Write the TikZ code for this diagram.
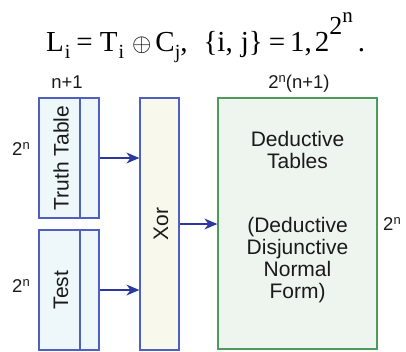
\documentclass[tikz,border=0pt]{standalone}
\usepackage{fontspec}
\setmainfont{Liberation Sans}
\newfontfamily\serifm{Liberation Serif}
\usetikzlibrary{arrows.meta}
\definecolor{boxblue}{HTML}{5060C0}
\definecolor{arrowblue}{HTML}{2C38A0}
\definecolor{cyanfill}{HTML}{EEF7FA}
\definecolor{beigefill}{HTML}{F8F8EC}
\definecolor{greenline}{HTML}{4E9A5C}
\definecolor{greenfill}{HTML}{EEF5EE}
\definecolor{txt}{HTML}{1A1A1A}
\tikzset{
  inbox/.style={draw=boxblue, fill=cyanfill, line width=1.3pt, inner sep=0pt},
  xorbox/.style={draw=boxblue, fill=beigefill, line width=1.3pt, inner sep=0pt},
  dedbox/.style={draw=greenline, fill=greenfill, line width=1.3pt, inner sep=0pt},
  conn/.style={draw=arrowblue, line width=1.2pt, -{Stealth[length=13pt,width=11pt]}},
  biglbl/.style={font=\fontsize{21}{22}\selectfont, text=txt},
  smalllbl/.style={font=\fontsize{18.5}{20}\selectfont, text=txt, inner sep=0pt},
}
\newcommand{\subx}[1]{\raisebox{-7pt}{\fontsize{20}{20}\selectfont #1}}
\begin{document}
\begin{tikzpicture}[x=1pt,y=-1pt]
\useasboundingbox (0,0) rectangle (406,351);
% formula
\node[anchor=base west, inner sep=0pt, font=\serifm\fontsize{29}{30}\selectfont, text=black] (formula) at (46,51)
 {L\hspace{1pt}\subx{i}\hspace{6pt}=\hspace{7pt}T\hspace{1pt}\subx{i}\hspace{8pt}{\fontsize{24}{24}\selectfont$\oplus$}\hspace{4pt}C\subx{j},\hspace{16pt}\{i,\hspace{8pt}j\}\hspace{6pt}=\hspace{5pt}1,\hspace{3pt}2\raisebox{17pt}{\fontsize{26}{26}\selectfont 2\raisebox{12pt}{\fontsize{21}{21}\selectfont n}}\hspace{5pt}.};
% truth table
\node[inbox, minimum width=41pt, minimum height=120pt] (tt) at (59.5,158) {};
\node[inbox, minimum width=19pt, minimum height=120pt] (ttc) at (89.5,158) {};
\node[biglbl, rotate=90] (ttl) at (61,158) {Truth Table};
% test
\node[inbox, minimum width=41pt, minimum height=120pt] (te) at (59.5,290) {};
\node[inbox, minimum width=19pt, minimum height=120pt] (tec) at (89.5,290) {};
\node[biglbl, rotate=90] (tel) at (61,290) {Test};
% xor
\node[xorbox, minimum width=39pt, minimum height=252pt] (xor) at (159.5,224) {};
\node[biglbl, rotate=90] (xorl) at (161,224) {Xor};
% deductive
\node[dedbox, minimum width=159pt, minimum height=251pt] (ded) at (297.5,223.5) {};
\node[biglbl, align=center] (d1) at (297.5,150) {Deductive\\Tables};
\node[biglbl, align=center] (d2) at (297.5,260) {(Deductive\\Disjunctive\\Normal\\Form)};
% labels
\node[smalllbl] (l1) at (67,82) {n+1};
\node[smalllbl] (l2) at (21,149) {2\raisebox{6pt}{\fontsize{13}{13}\selectfont n}};
\node[smalllbl] (l3) at (21,286) {2\raisebox{6pt}{\fontsize{13}{13}\selectfont n}};
\node[smalllbl] (l4) at (299,84) {2\raisebox{6pt}{\fontsize{13}{13}\selectfont n}(n+1)};
\node[smalllbl] (l5) at (392,224) {2\raisebox{6pt}{\fontsize{13}{13}\selectfont n}};
% connectors
\draw[conn] (ttc.east) -- (xor.west |- ttc.east);
\draw[conn] (tec.east) -- (xor.west |- tec.east);
\draw[conn] (xor.east) -- (ded.west |- xor.east);
\end{tikzpicture}
\end{document}
